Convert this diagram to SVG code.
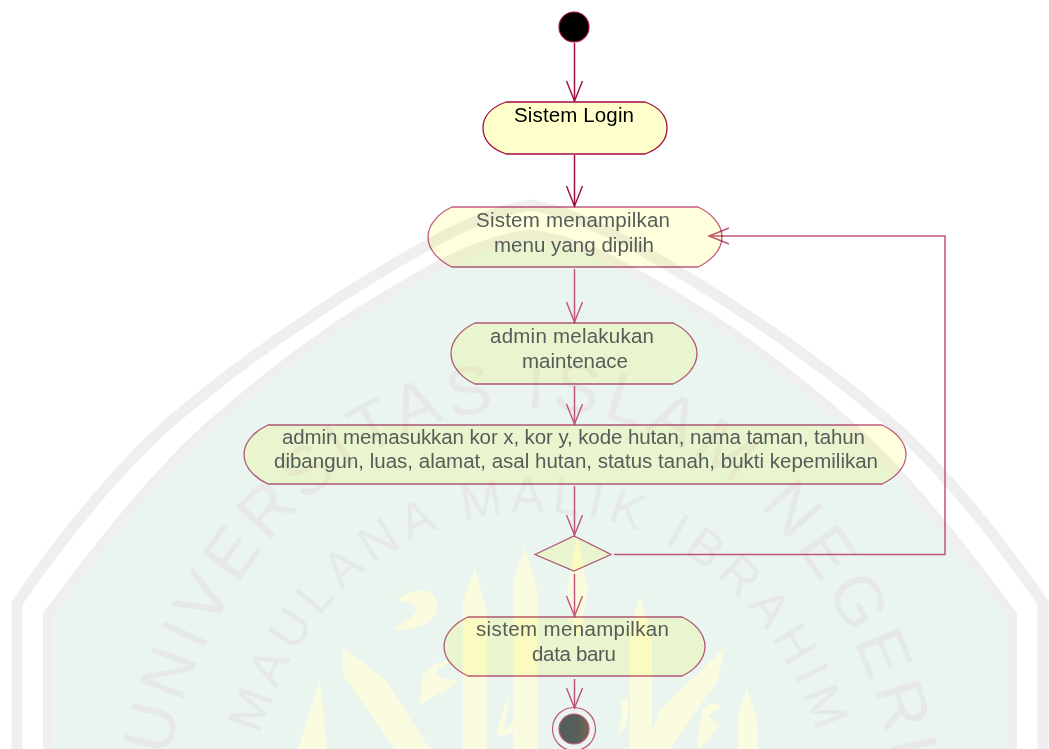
<svg xmlns="http://www.w3.org/2000/svg" width="1049" height="749" viewBox="0 0 1049 749">
<style>
.bg{fill:#ffffff}
.band{fill:none;stroke:#efefef;stroke-width:11;stroke-linejoin:round}
.shield{fill:#e9f5ee;stroke:#efefef;stroke-width:10;stroke-linejoin:round}
.wm{font-family:"Liberation Sans",Arial,sans-serif;fill:#e6e9e6}
.cal{fill:#fbfbdf}
.node{fill:#ffffdd;stroke:#c25a7e;stroke-width:1.3;mix-blend-mode:multiply}
.nodeD{fill:#ffffcb;stroke:#a20d45;stroke-width:1.3}
.t{font-family:"Liberation Sans",Arial,sans-serif;font-size:20.500px;fill:#565c59;text-anchor:middle}
.tD{fill:#000000}
.c{fill:none;stroke:#c0557a;stroke-width:1.5}
.cD{fill:none;stroke:#a20d45;stroke-width:1.5}
</style>
<defs>
<linearGradient id="endFill" x1="0" x2="1" y1="0" y2="0"><stop offset="0.55" stop-color="#555e58"/><stop offset="1" stop-color="#6f6a4e"/></linearGradient>
<marker id="arr" markerUnits="userSpaceOnUse" markerWidth="24" markerHeight="20" refX="21" refY="10" orient="auto" overflow="visible"><path d="M1 2L21 10L1 18" fill="none" stroke="#c0557a" stroke-width="1.4"/></marker>
<marker id="arrD" markerUnits="userSpaceOnUse" markerWidth="24" markerHeight="20" refX="21" refY="10" orient="auto" overflow="visible"><path d="M1 2L21 10L1 18" fill="none" stroke="#a20d45" stroke-width="1.4"/></marker>
<path id="arcA" d="M165 775C200 570 350 408 530 408C710 408 860 570 895 775"/>
<path id="arcB" d="M260 735C300 600 400 512 535 512C670 512 775 600 818 735"/>
</defs>
<g id="watermark">
<rect class="bg" width="1049" height="749"/>
<path class="band" d="M17 760V603C60 540 115 472 167 425C225 375 295 325 363 283C420 248 480 212 530 205C580 212 640 248 697 283C765 325 835 375 893 425C945 472 1000 540 1043 603V760"/>
<path class="shield" d="M48 765V615C100 545 155 475 213 423C265 378 315 340 363 310C420 275 480 238 530 235C580 238 640 275 697 310C745 340 795 378 847 423C905 475 960 545 1012 615V765Z"/>
<text class="wm" font-size="68" letter-spacing="6"><textPath href="#arcA" startOffset="18">UNIVERSITAS ISLAM NEGERI</textPath></text>
<text class="wm" font-size="50" letter-spacing="7"><textPath href="#arcB">MAULANA MALIK IBRAHIM</textPath></text>
<path class="cal" d="M475 568L487 612V749H463V600Z"/>
<path class="cal" d="M525 547L537 590V749H513V580Z"/>
<path class="cal" d="M577 536L588 590L578 640L567 590Z"/>
<path class="cal" d="M640 595L652 640V749H630V630Z"/>
<path class="cal" d="M343 647L385 680L430 749H395L343 675Z"/>
<path class="cal" d="M320 680L327 749H298Z"/>
<path class="cal" d="M725 647L718 680L670 749H645L660 710Z"/>
<path class="cal" d="M747 687L758 725V749H738V715Z"/>
<path class="cal" d="M397 625C420 615 425 605 397 600C410 588 437 585 437 605C437 625 415 630 395 630Z"/>
<path class="cal" d="M420 705L422 680C425 665 445 658 452 662L440 668C432 672 435 678 457 680C450 692 432 695 420 705Z"/>
<path class="cal" d="M697 745L702 710C708 702 720 703 720 708L708 715L720 725L700 749Z"/>
<path class="cal" d="M497 735C500 715 505 705 510 693L504 730L520 715C518 730 508 738 497 735ZM617 737C622 725 622 710 620 700L628 697C630 715 626 730 617 737Z"/>
</g>
<g id="connectors">
<path class="cD" d="M574.500 43V101" marker-end="url(#arrD)"/>
<path class="cD" d="M574.500 155V206" marker-end="url(#arrD)"/>
<path class="c" d="M574.500 269V322" marker-end="url(#arr)"/>
<path class="c" d="M574.500 386V424" marker-end="url(#arr)"/>
<path class="c" d="M574.500 486V535" marker-end="url(#arr)"/>
<path class="c" d="M574.500 574V616" marker-end="url(#arr)"/>
<path class="c" d="M574.500 679V708" marker-end="url(#arr)"/>
<path class="c" d="M614 554.500H945V236H709" marker-end="url(#arr)"/>
</g>
<g id="start"><circle cx="574" cy="27" r="15" fill="#000000" stroke="#a20d45" stroke-width="1.2"/></g>
<g id="sistem-login">
<path class="nodeD" d="M506 102H645C656 106 667 114 667 128C667 142 656 150 645 154H506C495 150 483 142 483 128C483 114 495 106 506 102Z"/>
<text class="t tD" x="574" y="122" textLength="120">Sistem Login</text>
</g>
<g id="menu">
<path class="node" d="M452 207H698C709 212 722 223 722 237C722 251 709 262 698 267H452C441 262 428 251 428 237C428 223 441 212 452 207Z"/>
<text class="t" x="573" y="227" textLength="194">Sistem menampilkan</text>
<text class="t" x="574" y="252" textLength="160">menu yang dipilih</text>
</g>
<g id="maintenance">
<path class="node" d="M475 323H673C684 328 697 339 697 353.500C697 368 684 379 673 384H475C464 379 451 368 451 353.500C451 339 464 328 475 323Z"/>
<text class="t" x="572" y="343" textLength="164">admin melakukan</text>
<text class="t" x="575" y="368" textLength="106">maintenace</text>
</g>
<g id="input">
<path class="node" d="M268 425H882C893 430 906 440.500 906 454.500C906 468.500 893 479 882 484H268C257 479 244 468.500 244 454.500C244 440.500 257 430 268 425Z"/>
<text class="t" x="573.500" y="444" textLength="583">admin memasukkan kor x, kor y, kode hutan, nama taman, tahun</text>
<text class="t" x="576" y="468" textLength="604">dibangun, luas, alamat, asal hutan, status tanah, bukti kepemilikan</text>
</g>
<g id="decision"><polygon class="node" points="535,554.500 574,536 611,554.500 574,571"/></g>
<g id="new-data">
<path class="node" d="M468 617H682C693 622 705 632.500 705 646.500C705 660.500 693 671 682 676H468C457 671 444 660.500 444 646.500C444 632.500 457 622 468 617Z"/>
<text class="t" x="572.500" y="636" textLength="193">sistem menampilkan</text>
<text class="t" x="574" y="661" textLength="84">data baru</text>
</g>
<g id="end">
<circle cx="574" cy="729" r="21.500" fill="none" stroke="#c0557a" stroke-width="1.2"/>
<circle cx="574" cy="729" r="15" fill="url(#endFill)" stroke="#c0557a" stroke-width="1.2"/>
</g>
</svg>
